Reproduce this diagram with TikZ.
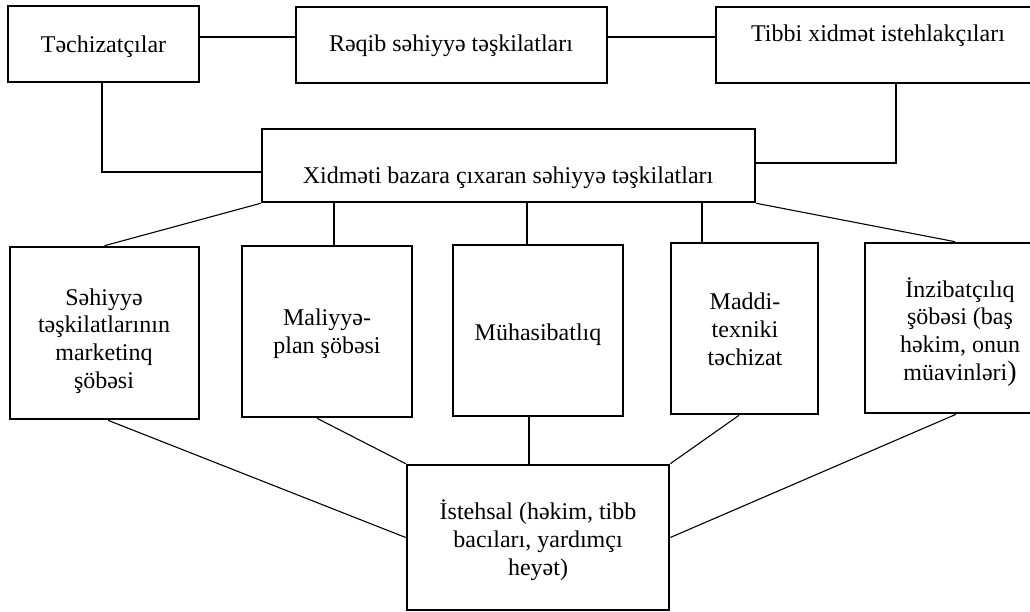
\documentclass[tikz,border=0pt]{standalone}
\usepackage{fontspec}
\setmainfont{Liberation Serif}
\begin{document}
\begin{tikzpicture}[x=1pt,y=-1pt,
  boxshape/.style={draw=black,line width=2.6pt,inner sep=0pt},
  label/.style={font=\fontsize{24}{27.6}\selectfont,align=center,inner sep=0pt,anchor=base},
  link/.style={draw=black,line width=1.1pt}]
\useasboundingbox (0,0) rectangle (1030,612);
\clip (0,0) rectangle (1030,612);

% boxes
\node[boxshape,minimum width=191pt,minimum height=76pt] (tech) at (103.5,44) {};
\node[boxshape,minimum width=311pt,minimum height=76pt] (reqib) at (451.5,45) {};
\node[boxshape,minimum width=324pt,minimum height=76pt] (tibbi) at (878,45) {};
\node[boxshape,minimum width=493pt,minimum height=73pt] (xidmet) at (508.5,165.5) {};
\node[boxshape,minimum width=189pt,minimum height=172pt] (mkt) at (104.5,333) {};
\node[boxshape,minimum width=170pt,minimum height=171pt] (mal) at (327,331.5) {};
\node[boxshape,minimum width=170pt,minimum height=171pt] (muh) at (538,330.5) {};
\node[boxshape,minimum width=147pt,minimum height=171pt] (mad) at (744.5,328.5) {};
\node[boxshape,minimum width=190pt,minimum height=170pt] (inz) at (960,328) {};
\node[boxshape,minimum width=262pt,minimum height=145pt] (ist) at (538,537.5) {};

% texts (anchored at the baseline of their last line)
\node[label] (techT)   at (103.5,53) {Təchizatçılar};
\node[label] (reqibT)  at (451,52)   {Rəqib səhiyyə təşkilatları};
\node[label] (tibbiT)  at (878,42)   {Tibbi xidmət istehlakçıları};
\node[label] (xidmetT) at (508,184)  {Xidməti bazara çıxaran səhiyyə təşkilatları};
\node[label] (mktT)    at (104,388)  {Səhiyyə\\təşkilatlarının\\marketinq\\şöbəsi};
\node[label] (malT)    at (327,353)  {Maliyyə-\\plan şöbəsi};
\node[label] (muhT)    at (538,340)  {Mühasibatlıq};
\node[label] (madT)    at (745,365)  {Maddi-\\texniki\\təchizat};
\node[label] (inzT)    at (960,380)  {İnzibatçılıq\\şöbəsi (baş\\həkim, onun\\müavinləri{\fontsize{28}{27.6}\selectfont)}};
\node[label] (istT)    at (538,575)  {İstehsal (həkim, tibb\\bacıları, yardımçı\\heyət)};

% guide levels for connectors
\coordinate (rowA) at (0,37);
\coordinate (rowB) at (0,172);
\coordinate (rowC) at (0,163);

% top row links
\draw[link] (tech.east |- rowA) -- (reqib.west |- rowA);
\draw[link] (reqib.east |- rowA) -- (tibbi.west |- rowA);
\draw[link] (tech.south -| 102,0) |- (xidmet.west |- rowB);
\draw[link] (tibbi.south -| 896,0) |- (xidmet.east |- rowC);

% links to departments
\draw[link] (xidmet.south west) -- (mkt.north);
\draw[link] (xidmet.south -| 334,0) -- (mal.north -| 334,0);
\draw[link] (xidmet.south -| 527,0) -- (muh.north -| 527,0);
\draw[link] (xidmet.south -| 702,0) -- (mad.north -| 702,0);
\draw[link] (xidmet.south east) -- (inz.north -| 955,0);

% links to production
\draw[link] (mkt.south -| 108,0) -- (ist.west);
\draw[link] (mal.south -| 317,0) -- (ist.north west);
\draw[link] (muh.south -| 529,0) -- (ist.north -| 529,0);
\draw[link] (mad.south -| 739,0) -- (ist.north east);
\draw[link] (inz.south -| 956,0) -- (ist.east);
\end{tikzpicture}
\end{document}
